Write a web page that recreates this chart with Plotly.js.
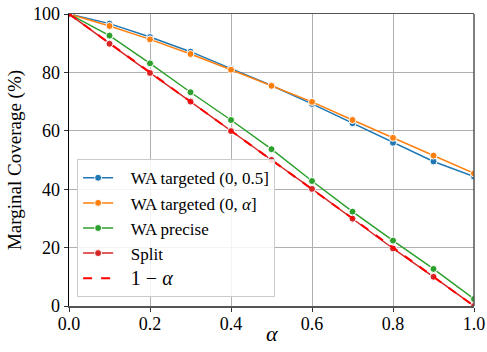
<!DOCTYPE html>
<html>
<head>
<meta charset="utf-8">
<script src="https://cdn.plot.ly/plotly-3.0.1.min.js"></script>
<style>html,body{margin:0;padding:0;background:#fff;}#chart{width:487px;height:352px;}</style>
</head>
<body>
<div id="chart"></div>
<script>
const alphas = [0.0, 0.1, 0.2, 0.3, 0.4, 0.5, 0.6, 0.7, 0.8, 0.9, 1.0];
const waTargetedHalf = [100, 96.7, 92.1, 87.1, 81.3, 75.5, 69.2, 62.6, 55.9, 49.5, 44.3];
const waTargetedAlpha = [100, 95.9, 91.3, 86.3, 80.9, 75.4, 69.9, 63.7, 57.6, 51.5, 45.4];
const waPrecise = [100, 92.6, 83.1, 73.2, 63.7, 53.7, 42.8, 32.3, 22.4, 12.7, 2.4];
const split = [100, 89.8, 79.8, 70.0, 59.9, 50.0, 40.1, 29.9, 19.7, 10.0, 0.0];
const oneMinusAlpha = [100, 90, 80, 70, 60, 50, 40, 30, 20, 10, 0];
const xTickVals = [0, 0.2, 0.4, 0.6, 0.8, 1.0];
const xTickText = ['0.0', '0.2', '0.4', '0.6', '0.8', '1.0'];
const yTickVals = [0, 20, 40, 60, 80, 100];
const seriesNames = ['WA targeted (0, 0.5]', 'WA targeted (0, <i>α</i>]', 'WA precise', 'Split', '<span style="font-size:20px">1 − <i>α</i></span>'];

const FAM = 'Liberation Serif';
const PAD = '\u00a0\u00a0\u00a0';
function mk(y, name, color) {
  return {
    x: alphas, y: y, name: PAD + name, type: 'scatter', mode: 'lines+markers',
    line: {color: color, width: 1.5},
    marker: {color: color, size: 7, line: {color: '#fff', width: 1}}
  };
}
const traces = [
  mk(waTargetedHalf, seriesNames[0], '#1f77b4'),
  mk(waTargetedAlpha, seriesNames[1], '#ff7f0e'),
  mk(waPrecise, seriesNames[2], '#2ca02c'),
  mk(split, seriesNames[3], '#d62728'),
  {x: alphas, y: oneMinusAlpha, name: PAD + seriesNames[4], type: 'scatter', mode: 'lines',
   line: {color: '#ff0000', width: 2, dash: 'dash'}}
];
const layout = {
  width: 487, height: 352,
  margin: {l: 69, r: 13, t: 14, b: 46},
  paper_bgcolor: '#fff', plot_bgcolor: '#fff',
  font: {family: FAM, size: 18, color: '#000'},
  xaxis: {
    range: [0, 1], tickvals: xTickVals, ticktext: xTickText,
    showgrid: true, gridcolor: '#b0b0b0', gridwidth: 1,
    showline: true, linecolor: '#555', linewidth: 1.5, mirror: true,
    ticks: 'outside', ticklen: 4, tickcolor: '#333', zeroline: false,
    ticklabelstandoff: -3,
    tickfont: {family: FAM, size: 18, color: '#000'}
  },
  yaxis: {
    range: [0, 100], tickvals: yTickVals,
    showgrid: true, gridcolor: '#b0b0b0', gridwidth: 1,
    showline: true, linecolor: '#000', linewidth: 1.5,
    ticks: 'outside', ticklen: 4, tickcolor: '#333', zeroline: false,
    tickfont: {family: FAM, size: 18, color: '#000'},
    title: {text: 'Marginal Coverage (%)', font: {family: FAM, size: 19, color: '#000'}, standoff: 6}
  },
  annotations: [{
    text: '<i>α</i>', xref: 'paper', yref: 'paper', x: 0.5, y: 0, yanchor: 'middle', yshift: -27,
    showarrow: false, font: {family: FAM, size: 22, color: '#000'}
  }],
  shapes: [{type: 'line', xref: 'paper', yref: 'paper', x0: 1, x1: 1, y0: 0, y1: 1, line: {color: '#555', width: 1.5}}],
  legend: {
    x: 0.02, y: 0.03, xanchor: 'left', yanchor: 'bottom',
    bgcolor: 'rgba(255,255,255,0.85)', bordercolor: '#cccccc', borderwidth: 1,
    font: {family: FAM, size: 17, color: '#000'}, traceorder: 'normal'
  },
  showlegend: true
};
Plotly.newPlot('chart', traces, layout, {displayModeBar: false, staticPlot: true});
</script>
</body>
</html>
